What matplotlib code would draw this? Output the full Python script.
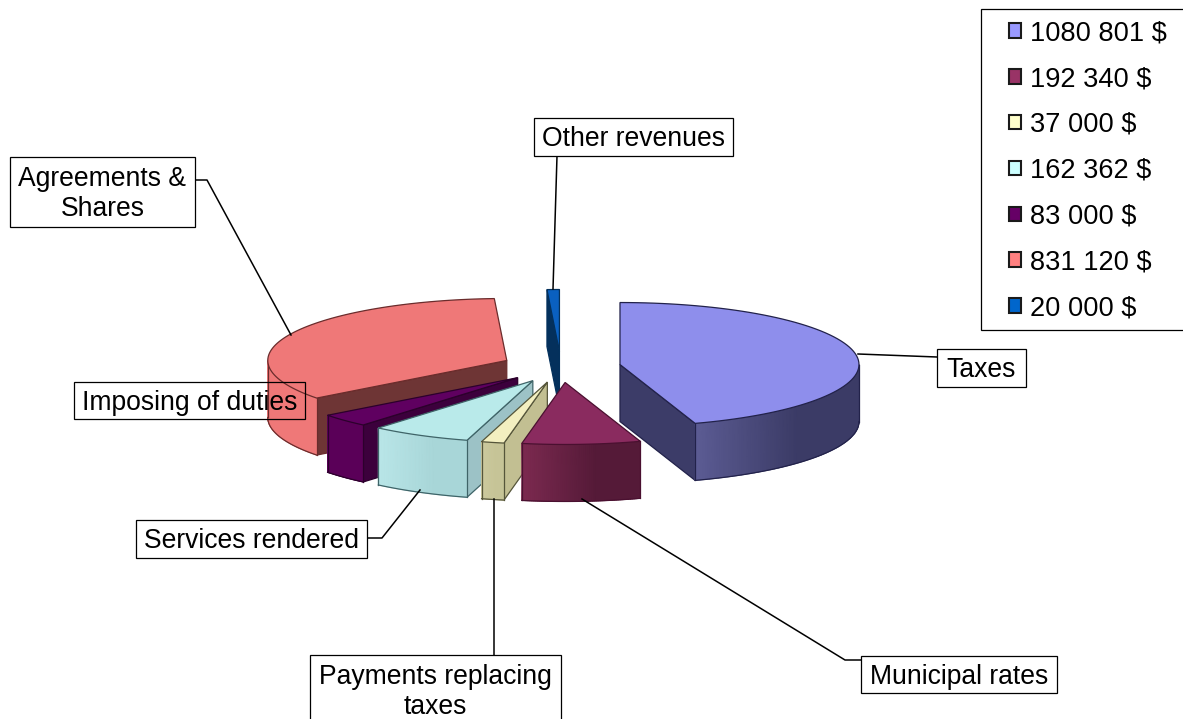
"""Camembert 3D éclaté : revenus municipaux."""
import matplotlib

matplotlib.use("Agg")

import matplotlib.pyplot as plt
import numpy as np
from matplotlib.colors import LinearSegmentedColormap
from matplotlib.patches import Polygon, Rectangle

plt.rcParams["font.family"] = ["Liberation Sans", "DejaVu Sans"]

categories = ["Taxes", "Municipal rates", "Payments replacing\ntaxes", "Services rendered",
              "Imposing of duties", "Agreements &\nShares", "Other revenues"]
values = [1080801, 192340, 37000, 162362, 83000, 831120, 20000]
legend_labels = ["1080 801 $", "192 340 $", "37 000 $", "162 362 $", "83 000 $", "831 120 $", "20 000 $"]

legend_colors = ["#9999ff", "#993366", "#ffffcc", "#ccffff", "#660066", "#ff8080", "#0066cc"]
top_colors = ["#8e8eec", "#8a2b5f", "#f3efc0", "#b9eaea", "#5f0060", "#ef7878", "#0a60c0"]
rim_left = ["#5c5c94", "#7c2a50", "#ccc99e", "#b9e6e8", "#5a0058", "#ef7878", "#0a60c0"]
rim_right = ["#3b3b66", "#551a38", "#c6c497", "#a8d6d8", "#5a0058", "#ef7878", "#0a60c0"]
wall_colors = ["#3c3c68", "#5a1c3c", "#c2bf92", "#9cc2c6", "#3c003c", "#6e3535", "#04305c"]
edge_colors = ["#22224a", "#4a1030", "#55553a", "#3f6468", "#2c002c", "#6a2c2c", "#03305c"]

# repère en pixels de l'image
CX, CY = 561, 367
RX, RY = 239, 62
DEPTH = 57
EXPLODE = 0.25

# (x0, y0, x1, y1) des cadres d'étiquettes, même ordre que categories
label_boxes = [(937, 349, 1026, 387), (861, 656, 1057, 693), (310, 655, 561, 725), (136, 520, 367, 558),
               (74, 382, 305, 419), (10, 157, 195, 227), (534, 118, 733, 156)]
leaders = [[(858, 354), (937, 357)],
           [(582, 499), (845, 660), (861, 660)],
           [(494, 499), (494, 655)],
           [(420, 490), (382, 538), (367, 538)],
           [],  # pas de trait pour "Imposing of duties"
           [(291, 335), (207, 180), (195, 180)],
           [(553, 289), (557, 156)]]


def ground(theta, cx, cy):
    """Point de l'ellipse ; theta en degrés, horaire depuis midi."""
    t = np.radians(theta)
    return cx + RX * np.sin(t), cy - RY * np.cos(t)


def draw_slice(ax, a0, a1, i, z):
    mid = (a0 + a1) / 2
    cx, cy = ground(mid, CX, CY)
    cx, cy = CX + EXPLODE * (cx - CX), CY + EXPLODE * (cy - CY)
    edge = edge_colors[i]

    # parois radiales, seulement celles tournées vers nous
    for theta, visible in ((a0, np.sin(np.radians(a0)) < 0), (a1, np.sin(np.radians(a1)) > 0)):
        if visible:
            x, y = ground(theta, cx, cy)
            quad = [(cx, cy), (x, y), (x, y + DEPTH), (cx, cy + DEPTH)]
            ax.add_patch(Polygon(quad, closed=True, fc=wall_colors[i], ec=edge, lw=0.9, zorder=z))

    # bord extérieur : dégradé gouraud, gauche -> droite
    lo, hi = max(a0, 90), min(a1, 270)
    if lo < hi:
        steps = np.linspace(lo, hi, 60)
        xs, ys = ground(steps, cx, cy)
        frac = np.clip((xs - xs.min()) / (xs.max() - xs.min()) * 1.6, 0, 1)
        cmap = LinearSegmentedColormap.from_list(f"rim{i}", [rim_left[i], rim_right[i]])
        ax.pcolormesh(np.vstack([xs, xs]), np.vstack([ys, ys + DEPTH]), np.vstack([frac, frac]),
                      cmap=cmap, vmin=0, vmax=1, shading="gouraud", zorder=z)
        ax.plot(xs, ys + DEPTH, color=edge, lw=0.9, zorder=z)
        ax.plot([xs[0], xs[0]], [ys[0], ys[0] + DEPTH], color=edge, lw=0.9, zorder=z)
        ax.plot([xs[-1], xs[-1]], [ys[-1], ys[-1] + DEPTH], color=edge, lw=0.9, zorder=z)

    # dessus
    arc = np.linspace(a0, a1, 80)
    xs, ys = ground(arc, cx, cy)
    top = [(cx, cy)] + list(zip(xs, ys))
    ax.add_patch(Polygon(top, closed=True, fc=top_colors[i], ec=edge, lw=0.9, zorder=z))


fig = plt.figure(figsize=(11.83, 7.19), dpi=100)
ax = fig.add_axes([0, 0, 1, 1])
ax.set_xlim(0, 1183)
ax.set_ylim(719, 0)
ax.axis("off")

bounds = np.concatenate([[0], np.cumsum(values)]) / sum(values) * 360
# ordre du peintre : du fond vers l'avant
for z, i in enumerate([6, 5, 0, 4, 3, 2, 1], start=1):
    draw_slice(ax, bounds[i], bounds[i + 1], i, z)

for i, name in enumerate(categories):
    x0, y0, x1, y1 = label_boxes[i]
    if leaders[i]:
        xs, ys = zip(*leaders[i])
        ax.plot(xs, ys, color="black", lw=1.1, zorder=10)
    ax.add_patch(Rectangle((x0, y0), x1 - x0, y1 - y0, fc="none" if i == 4 else "white", ec="black", lw=0.9, zorder=11))
    yc = 692 if i == 2 else (y0 + y1) / 2 + 2
    ax.text((x0 + x1) / 2, yc, name, ha="center", va="center", fontsize=19.1, linespacing=1.22, color="black", zorder=12)

# cadre de légende coupé par le bord droit, comme sur l'original
ax.add_patch(Rectangle((981, 9), 230, 321, fc="white", ec="black", lw=0.9, zorder=13))
handles = [Rectangle((0, 0), 1, 1, fc=c, ec="#1a1a1a", lw=1.5) for c in legend_colors]
leg = ax.legend(handles, legend_labels, loc="upper left", bbox_to_anchor=(997, 8), bbox_transform=ax.transData,
                fontsize=19.6, frameon=False, borderaxespad=0, borderpad=0.45, handlelength=0.44, handleheight=0.44,
                handletextpad=0.32, labelspacing=0.728)
leg.set_zorder(14)

fig.savefig("out.png", dpi=100)
